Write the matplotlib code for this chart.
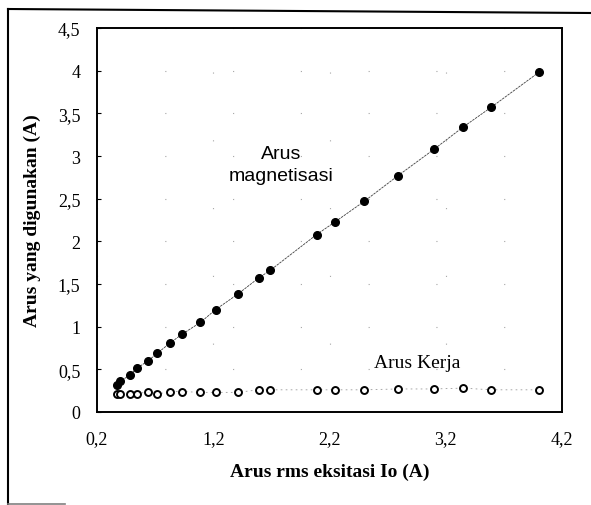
import matplotlib
matplotlib.use("Agg")
import matplotlib.pyplot as plt
from matplotlib.lines import Line2D

# data
io_rms = [0.37, 0.40, 0.48, 0.54, 0.64, 0.72, 0.83, 0.93, 1.09, 1.22, 1.41,
          1.59, 1.69, 2.09, 2.25, 2.50, 2.79, 3.10, 3.35, 3.59, 4.00]
arus_magnetisasi = [0.32, 0.36, 0.43, 0.51, 0.60, 0.69, 0.81, 0.91, 1.05, 1.20, 1.38,
                    1.57, 1.66, 2.08, 2.23, 2.47, 2.77, 3.08, 3.34, 3.57, 3.98]
arus_kerja = [0.21, 0.21, 0.21, 0.21, 0.24, 0.21, 0.24, 0.24, 0.23, 0.23, 0.23,
              0.26, 0.26, 0.26, 0.26, 0.26, 0.27, 0.27, 0.28, 0.26, 0.26]

x_ticks = [0.2, 1.2, 2.2, 3.2, 4.2]
y_ticks = [0, 0.5, 1, 1.5, 2, 2.5, 3, 3.5, 4, 4.5]

serif = "Liberation Serif"
W, H = 591, 506

fig = plt.figure(figsize=(W / 100, H / 100), dpi=100)
ax = fig.add_axes([97 / W, 1 - 413 / H, (562 - 97) / W, (413 - 29) / H])

# faint dotted grid like the scan
ax.grid(True, color="0.65", linestyle=(0, (1, 60)), linewidth=0.8)
ax.set_axisbelow(True)

ax.plot(io_rms, arus_magnetisasi, color="0.25", linestyle=(0, (3, 1)), linewidth=0.6,
        marker="o", markersize=5.5, markerfacecolor="black", markeredgecolor="black")
ax.plot(io_rms, arus_kerja, color="0.6", linestyle=(0, (2, 4)), linewidth=0.6,
        marker="o", markersize=5, markerfacecolor="white", markeredgecolor="black",
        markeredgewidth=1.4)

ax.set_xlim(0.2, 4.2)
ax.set_ylim(0, 4.5)
ax.set_xticks(x_ticks)
ax.set_yticks(y_ticks)
ax.set_xticklabels([f"{v:.1f}".replace(".", ",") for v in x_ticks], fontfamily=serif, fontsize=13)
ax.set_yticklabels([("%g" % v).replace(".", ",") for v in y_ticks], fontfamily=serif, fontsize=13)
ax.tick_params(axis="x", direction="in", length=0, pad=13)
ax.tick_params(axis="y", direction="in", length=3, pad=12)
for s in ax.spines.values():
    s.set_linewidth(1.4)

ax.set_xlabel("Arus rms eksitasi Io (A)", fontfamily=serif, fontweight="bold", fontsize=14, labelpad=11)
ax.set_ylabel("Arus yang digunakan (A)", fontfamily=serif, fontweight="bold", fontsize=14, labelpad=12)

ax.text(1.78, 2.9, "Arus\nmagnetisasi", ha="center", va="center", fontfamily="Liberation Sans",
        fontsize=14, linespacing=1.4)
ax.text(2.95, 0.58, "Arus Kerja", ha="center", va="center", fontfamily=serif, fontsize=14)

# outer frame of the scanned figure
fig.lines.append(Line2D([8 / W, 8 / W], [1 - 10 / H, 1 - 505 / H], transform=fig.transFigure,
                        color="black", linewidth=1.5))
fig.lines.append(Line2D([8 / W, 1.0], [1 - 10 / H, 1 - 14 / H], transform=fig.transFigure,
                        color="black", linewidth=1.5))
fig.lines.append(Line2D([8 / W, 65 / W], [1 - 505 / H, 1 - 505 / H], transform=fig.transFigure,
                        color="0.5", linewidth=1.2))

fig.savefig("out.png", dpi=100)
